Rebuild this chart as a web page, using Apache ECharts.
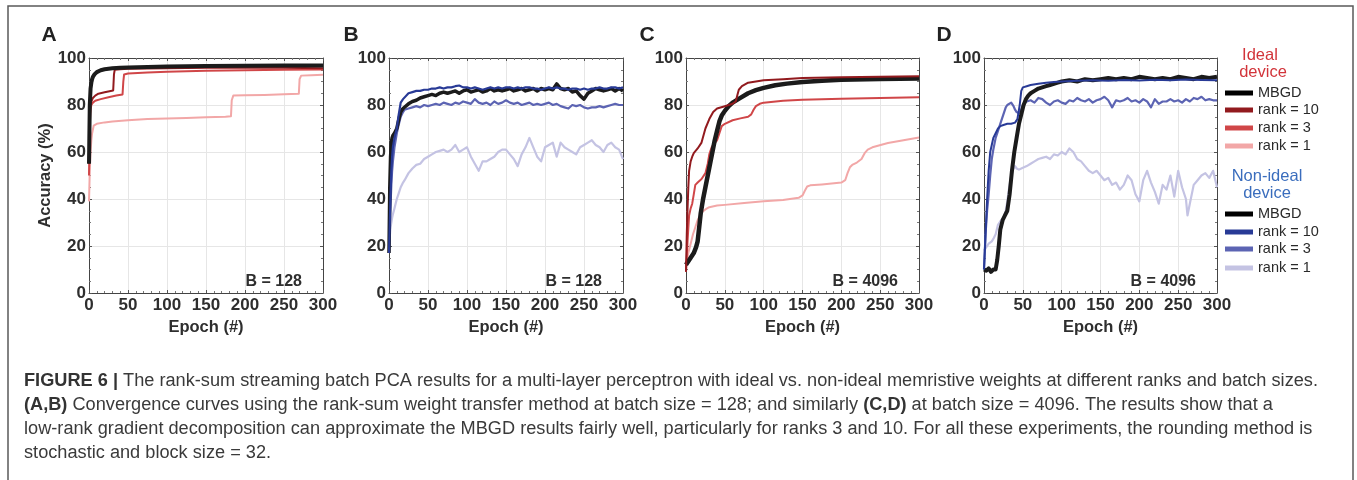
<!DOCTYPE html>
<html><head><meta charset="utf-8">
<script src="https://cdn.jsdelivr.net/npm/echarts@6/dist/echarts.min.js"></script>
<style>html,body{margin:0;padding:0;background:#fff}#c{width:1357px;height:480px}</style>
</head><body><div id="c"></div>
<script>
// ---------- tick labels ----------
const xTicks = [0, 50, 100, 150, 200, 250, 300];
const yTicks = [0, 20, 40, 60, 80, 100];
const panelLetters = ['A', 'B', 'C', 'D'];
const batchLabels = ['B = 128', 'B = 128', 'B = 4096', 'B = 4096'];
const seriesNames = ['MBGD', 'rank = 10', 'rank = 3', 'rank = 1'];

// ---------- Panel A (ideal, B=128) ----------
const A_mbgd_x = [0,1,2,3,4,5,7,10,15,20,30,40,50,75,100,150,200,250,300];
const A_mbgd_y = [55,80,87,89.5,91,92,93,94,94.8,95.2,95.6,95.8,96,96.2,96.4,96.6,96.7,96.8,96.8];
const A_r10_x = [0,1,2,3,5,8,12,20,31,32,33,40,50,100,150,200,250,300];
const A_r10_y = [55,75,80,81.5,83,84,84.8,85.4,86.2,93,95,95.2,95.4,95.6,95.8,95.9,95.8,95.6];
const A_r3_x = [0,1,2,3,5,8,15,25,35,43,44,45,50,75,100,150,200,250,300];
const A_r3_y = [50,72,78,80,81,81.8,82.5,83.3,84,84.5,90,93,93.4,93.8,94.2,94.6,94.8,95,95.1];
const A_r1_x = [0,1,2,3,4,6,10,20,30,50,75,100,125,150,175,182,183,185,200,225,250,269,270,272,285,300];
const A_r1_y = [39,52,60,65,68,71.2,72,72.6,73,73.5,74,74.3,74.5,74.8,75,75.2,82,84,84.1,84.3,84.6,84.8,91,92.5,92.7,92.9];

// ---------- Panel B (non-ideal, B=128) ----------
const B_x = [0,1,2,3,4,5,7,10,12,15,
  18,20,25,30,35,40,45,50,55,60,
  65,70,75,80,85,90,95,100,105,110,
  115,120,125,130,135,140,145,150,155,160,
  165,170,175,180,185,190,195,200,205,210,
  215,220,225,230,235,240,245,250,255,260,
  265,270,275,280,285,290,295,300];
const B_mbgd = [17,45,58,64,66,67,68,70,73,77,
  78.5,79,80.5,81.5,82,83,83.5,84,84.5,84,
  85,85.5,85,85.5,86,85,86,86.5,85.5,86,
  86.5,85.5,86,87,86,86.5,86,86.5,87,86,
  86.5,87,86,86.5,87,86,87,86.5,87,86.5,
  89,87,86.5,87,85.5,86,84,82.5,85,86,
  87,86.5,86,86.5,87,86,87,86];
const B_r10 = [17,30,42,52,58,62,66,70,75,81,
  82.5,83,85,85.5,86,86,86.5,86.5,87,87,
  87.5,87,87.5,87.5,88,88.3,87.5,87.5,87,87.5,
  87,86.5,87,87.5,87,87.5,87,87.5,87.5,87,
  87.5,87,87.5,87.5,87,87,86.5,87,87.5,87,
  87.5,87,87,86.5,87,87,86.5,87,86.5,87,
  87,87.5,87,87,87.5,87.5,87,87.5];
const B_r3 = [17,28,38,46,52,56,62,68,71,75,
  77,78,78.5,79,79.5,79,80,79.5,80,80.5,
  80,81,80.5,80,81,80.5,81.5,81,80.5,82.5,
  81,80.5,81,80,81.5,80.5,81,82,81,80.5,
  81,80,80.5,81,80,80.5,80,80.5,81,80,
  80.5,79.5,79,78.5,80,79.5,80,79,78.5,79,
  79,79.5,79,79.5,80,80.5,80,80];
const B_r1 = [17,24,28,30,32,33.5,36,40,42,45,
  47,48,51,53,54.5,55,57,58,59,60,
  60.5,61,60,61,63,60,61,62,58,55,
  52,56,56,57,58,60,61,61,59,57,
  54,59,62,66,62,58,56,62,63,64,
  58,64,62,61,60,59,62,63,64,65,
  63,62,60,63,64,62,61,57];

// ---------- Panel C (ideal, B=4096) ----------
const C_mbgd_x = [0,3,6,10,13,15,17,19,22,25,28,31,34,37,40,43,46,50,55,60,70,80,90,100,115,130,150,175,200,250,300];
const C_mbgd_y = [12,13.5,15,17,19.5,22,28,34,40,45,50,55,60,65,69,73,75.5,77.5,79.5,81,83,85,86.3,87.3,88.4,89.1,89.8,90.3,90.7,91.1,91.3];
const C_r10_x = [0,1,2,3,4,6,8,10,15,20,25,30,35,40,50,60,64,66,68,72,80,90,100,125,150,200,250,300];
const C_r10_y = [9,25,36,45,52,56,58,59.5,61.5,64,70,74,77,78.5,79.5,80.5,81.5,84,86.5,88,89.5,90,90.5,91,91.5,91.8,92,92.2];
const C_r3_x = [0,2,4,6,8,10,12,15,20,25,28,30,33,36,40,43,46,50,60,70,80,84,87,90,95,100,125,150,200,250,300];
const C_r3_y = [9,22,33,36,38,42,46,47,48.5,51,55,59,62,63.5,65,68,71,72,73.5,74.3,75,76,78,79.5,80.5,81,81.8,82.2,82.7,83,83.3];
const C_r1_x = [0,3,6,9,12,15,18,22,26,30,40,50,75,100,125,145,150,153,156,160,175,200,205,208,211,214,220,226,230,234,240,260,280,300];
const C_r1_y = [12,17,21,25,28,31,33,34.8,35.8,36.5,37.2,37.5,38.3,39,39.6,40.5,41.5,43.5,45.3,45.8,46.2,47,48,51,53.5,54.5,55.5,57,59.5,61,62,63.8,65,66.2];

// ---------- Panel D (non-ideal, B=4096) ----------
const D_mbgd_x = [0,3,6,9,12,15,17,19,21,24,
  27,30,33,36,39,42,45,48,51,54,
  57,60,65,70,75,80,85,90,95,100,
  110,120,130,140,150,160,170,180,190,200,
  210,220,230,240,250,260,270,280,290,300];
const D_mbgd_y = [10,9.5,10.5,9,10,10,14,20,27,31,
  33,35,42,52,60,66,72,76,80,82.5,
  84,85,86,87,87.5,88,88.5,89,89.5,90,
  90.5,90,91,90.5,91,91.5,91,91.5,91,92,
  91.5,91,91.5,91,92,91.5,91,92,91.5,92];
const D_r10_x = [0,2,4,6,8,10,12,15,18,21,25,30,35,40,43,46,48,50,55,60,70,80,90,100,120,140,160,180,200,220,240,260,280,300];
const D_r10_y = [10,25,40,52,60,63,66,68,70,71,71.5,72,72,72.5,74,80,86,87.5,88,88.5,89,89.5,89.8,90,90.3,90.5,90.3,90.6,90.4,90.7,90.5,90.8,90.6,90.5];
const D_x = [0,2,4,6,8,10,12,15,18,20,
  22,25,28,30,32,35,38,40,42,45,
  48,50,55,60,65,70,75,80,85,90,
  95,100,105,110,115,120,125,130,135,140,
  145,150,155,160,165,170,175,180,185,190,
  195,200,205,210,215,220,225,230,235,240,
  245,250,255,260,262,265,270,275,280,285,
  290,295,300];
const D_r3 = [10,25,35,42,50,57,61,66,69,71,
  73,76,79,80,80.5,81,79.5,78,77,76.5,
  78,80,81.5,82,81,83,82.5,81,80,81.5,
  82,81,80.5,82,81.5,83,82,81.5,82.5,81,
  82,82.5,83.5,82,79,82,81.5,82,83,81.5,
  82,81,82.5,81.5,79,82.5,80.5,81.5,81.5,82.5,
  81.5,82,81,82.5,82,81.5,83,82.5,83.5,82,
  82.5,82,82];
const D_r1 = [18,19,20,21,21,22,23,25,29,30,
  31,32,35,39,44,50,53,54,53,52.5,
  53,53.5,54,55,56,57,57.5,58,57,59,
  58.5,60,59,61.5,60,57,56,54,52,51,
  52,50,48,49,46,47,44,46,50,48,
  42,39,48,52,47,43,38,46,44,50,
  41,52,45,40,33,38,46,48,50,51,
  49,52,45];

// ---------- colours ----------
const C_BLACK = '#1b1b1b';
const RED = ['#921a1e', '#d04648', '#f2a7a7'];
const BLUE = ['#283a96', '#5c64b3', '#c4c3e3'];

function zip(xs, ys) { return xs.map((x, i) => [x, ys[i]]); }

const grids = [
  {left: 89, top: 58, width: 234, height: 235},
  {left: 389, top: 58, width: 234, height: 235},
  {left: 686, top: 58, width: 233, height: 235},
  {left: 984, top: 58, width: 233, height: 235}
];

const FONT = '"Liberation Sans", Arial, sans-serif';
const tickLab = {fontFamily: FONT, fontWeight: 'bold', fontSize: 17, color: '#2e2e2e'};

const xAxes = [], yAxes = [];
grids.forEach((g, i) => {
  xAxes.push({
    gridIndex: i, type: 'value', min: 0, max: 300, interval: 50, position: 'bottom',
    axisLine: {show: true, onZero: false, lineStyle: {color: '#444', width: 1}},
    axisTick: {show: true, inside: true, length: 3, lineStyle: {color: '#555'}},
    minorTick: {show: true, splitNumber: 5, length: 2, lineStyle: {color: '#777'}},
    axisLabel: Object.assign({margin: 4, formatter: v => xTicks.includes(v) ? String(v) : ''}, tickLab),
    splitLine: {show: true, lineStyle: {color: '#e6e6e6', width: 1}},
    name: 'Epoch (#)', nameLocation: 'middle', nameGap: 26,
    nameTextStyle: {fontFamily: FONT, fontWeight: 'bold', fontSize: 16.5, color: '#2e2e2e'}
  });
  xAxes.push({
    gridIndex: i, type: 'value', min: 0, max: 300, interval: 50, position: 'top',
    axisLine: {show: true, onZero: false, lineStyle: {color: '#444', width: 1}},
    axisTick: {show: true, inside: true, length: 3, lineStyle: {color: '#555'}},
    minorTick: {show: true, splitNumber: 5, length: 2, lineStyle: {color: '#777'}},
    axisLabel: {show: false}, splitLine: {show: false}
  });
  yAxes.push(Object.assign({
    gridIndex: i, type: 'value', min: 0, max: 100, interval: 20, position: 'left',
    axisLine: {show: true, onZero: false, lineStyle: {color: '#444', width: 1}},
    axisTick: {show: true, inside: true, length: 3, lineStyle: {color: '#555'}},
    minorTick: {show: true, splitNumber: 4, length: 2, lineStyle: {color: '#777'}},
    axisLabel: Object.assign({margin: 3, formatter: v => yTicks.includes(v) ? String(v) : ''}, tickLab),
    splitLine: {show: true, lineStyle: {color: '#e6e6e6', width: 1}}
  }, i === 0 ? {
    name: 'Accuracy (%)', nameLocation: 'middle', nameGap: 29,
    nameTextStyle: {fontFamily: FONT, fontWeight: 'bold', fontSize: 16.5, color: '#2e2e2e'}
  } : {}));
  yAxes.push({
    gridIndex: i, type: 'value', min: 0, max: 100, interval: 20, position: 'right',
    axisLine: {show: true, onZero: false, lineStyle: {color: '#444', width: 1}},
    axisTick: {show: true, inside: true, length: 3, lineStyle: {color: '#555'}},
    minorTick: {show: true, splitNumber: 4, length: 2, lineStyle: {color: '#777'}},
    axisLabel: {show: false}, splitLine: {show: false}
  });
});

function line(panel, name, data, color, width, z) {
  return {
    type: 'line', name: name, xAxisIndex: panel * 2, yAxisIndex: panel * 2,
    data: data, showSymbol: false, symbol: 'none', z: z,
    lineStyle: {color: color, width: width, join: 'round'}, itemStyle: {color: color},
    emphasis: {disabled: true}, silent: true
  };
}

const series = [
  line(0, seriesNames[3], zip(A_r1_x, A_r1_y), RED[2], 2, 2),
  line(0, seriesNames[2], zip(A_r3_x, A_r3_y), RED[1], 2, 3),
  line(0, seriesNames[1], zip(A_r10_x, A_r10_y), RED[0], 2, 4),
  line(0, seriesNames[0], zip(A_mbgd_x, A_mbgd_y), C_BLACK, 4, 5),

  line(1, seriesNames[3], zip(B_x, B_r1), BLUE[2], 2.2, 2),
  line(1, seriesNames[2], zip(B_x, B_r3), BLUE[1], 2.2, 3),
  line(1, seriesNames[0], zip(B_x, B_mbgd), C_BLACK, 3.5, 4),
  line(1, seriesNames[1], zip(B_x, B_r10), BLUE[0], 2.2, 5),

  line(2, seriesNames[3], zip(C_r1_x, C_r1_y), RED[2], 2, 2),
  line(2, seriesNames[2], zip(C_r3_x, C_r3_y), RED[1], 2, 3),
  line(2, seriesNames[0], zip(C_mbgd_x, C_mbgd_y), C_BLACK, 4.5, 4),
  line(2, seriesNames[1], zip(C_r10_x, C_r10_y), RED[0], 2, 5),

  line(3, seriesNames[3], zip(D_x, D_r1), BLUE[2], 2.2, 2),
  line(3, seriesNames[2], zip(D_x, D_r3), BLUE[1], 2.2, 3),
  line(3, seriesNames[0], zip(D_mbgd_x, D_mbgd_y), C_BLACK, 4, 4),
  line(3, seriesNames[1], zip(D_r10_x, D_r10_y), BLUE[0], 2, 5)
];

// ---------- graphics: letters, batch labels, legend, caption ----------
const graphic = [];
graphic.push({type: 'rect', shape: {x: 8, y: 6, width: 1345, height: 490},
  style: {fill: 'none', stroke: '#5a5a5a', lineWidth: 1.5}, silent: true, z: -1});

const letterX = [49, 351, 647, 944];
panelLetters.forEach((L, i) => {
  graphic.push({type: 'text', x: letterX[i], y: 35,
    style: {text: L, fontFamily: FONT, fontWeight: 'bold', fontSize: 21, fill: '#222',
      align: 'center', verticalAlign: 'middle'}});
  const g = grids[i];
  graphic.push({type: 'text', x: g.left + g.width - 21, y: 282,
    style: {text: batchLabels[i], fontFamily: FONT, fontWeight: 'bold', fontSize: 16, fill: '#2e2e2e',
      align: 'right', verticalAlign: 'middle'}, z: 10});
});

function legendHeader(lines, cx, ys, color) {
  lines.forEach((t, k) => graphic.push({type: 'text', x: cx[k], y: ys[k],
    style: {text: t, fontFamily: FONT, fontSize: 16.5, fill: color, align: 'center', verticalAlign: 'middle'}}));
}
function legendItems(colors, ys) {
  colors.forEach((c, k) => {
    graphic.push({type: 'rect', shape: {x: 1225, y: ys[k] - 2.5, width: 28, height: 5}, style: {fill: c}});
    graphic.push({type: 'text', x: 1258, y: ys[k],
      style: {text: seriesNames[k], fontFamily: FONT, fontSize: 14.5, fill: '#2a2a2a', align: 'left', verticalAlign: 'middle'}});
  });
}
legendHeader(['Ideal', 'device'], [1260, 1263], [55, 72], '#d2343a');
legendItems(['#000000', RED[0], RED[1], RED[2]], [93, 110, 128, 146]);
legendHeader(['Non-ideal', 'device'], [1267, 1267], [176, 193], '#3a6dbd');
legendItems(['#000000', BLUE[0], BLUE[1], BLUE[2]], [214, 232, 249, 268]);

// caption
const capLines = [
  [['FIGURE 6 | ', 1], ['The rank-sum streaming batch PCA results for a multi-layer perceptron with ideal vs. non-ideal memristive weights at different ranks and batch sizes.', 0]],
  [['(A,B)', 1], [' Convergence curves using the rank-sum weight transfer method at batch size = 128; and similarly ', 0], ['(C,D)', 1], [' at batch size = 4096. The results show that a', 0]],
  [['low-rank gradient decomposition can approximate the MBGD results fairly well, particularly for ranks 3 and 10. For all these experiments, the rounding method is', 0]],
  [['stochastic and block size = 32.', 0]]
];
const CAP_SIZE = 18;
const ctx = document.createElement('canvas').getContext('2d');
function measure(segs) {
  let w = 0;
  segs.forEach(s => { ctx.font = (s[1] ? 'bold ' : '') + CAP_SIZE + 'px ' + FONT; w += ctx.measureText(s[0]).width; });
  return w;
}
const capScale = (1318 - 24) / measure(capLines[0]);
const capY = [381, 405, 429, 453];
capLines.forEach((segs, k) => {
  const txt = segs.map(s => '{' + (s[1] ? 'b' : 'n') + '|' + s[0] + '}').join('');
  graphic.push({type: 'text', x: 24, y: capY[k], scaleX: capScale, originX: 0, originY: 0,
    style: {text: txt, align: 'left', verticalAlign: 'middle',
      rich: {
        b: {fontFamily: FONT, fontWeight: 'bold', fontSize: CAP_SIZE, fill: '#333', color: '#333'},
        n: {fontFamily: FONT, fontSize: CAP_SIZE, fill: '#3a3a3a', color: '#3a3a3a'}
      }}});
});

const chart = echarts.init(document.getElementById('c'), null, {renderer: 'canvas'});
chart.setOption({
  animation: false,
  backgroundColor: '#fff',
  grid: grids,
  xAxis: xAxes,
  yAxis: yAxes,
  series: series,
  graphic: graphic
});
</script></body></html>
